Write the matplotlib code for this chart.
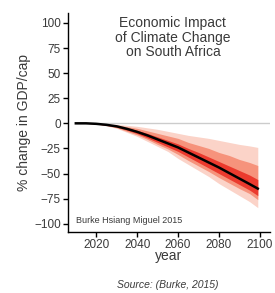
import matplotlib
matplotlib.use("Agg")
import matplotlib.pyplot as plt

# projected % change in GDP per capita, South Africa
years = [2010, 2015, 2020, 2025, 2030, 2035, 2040, 2045, 2050, 2055,
         2060, 2065, 2070, 2075, 2080, 2085, 2090, 2095, 2099]
median = [0, 0, -0.5, -1.5, -3, -5.5, -8.5, -12, -16, -20,
          -24, -29, -34, -39, -44, -49.5, -55, -60.5, -65]

# uncertainty bands, outer to inner
outer_hi = [0, 0, -0.2, -0.5, -1, -2, -3, -4.5, -6, -8,
            -10, -12, -13.5, -15, -17, -19, -21, -22.5, -24]
outer_lo = [0, 0, -0.8, -2.5, -5, -9, -13, -18, -23, -28,
            -35, -41, -47, -53, -60, -66, -72, -78, -84]
mid_hi = [0, 0, -0.3, -0.9, -1.8, -3.3, -5, -7.5, -10, -12.5,
          -15, -19, -22, -25, -29, -32, -36, -39, -42]
mid_lo = [0, 0, -0.7, -2.2, -4.4, -8, -11.5, -16, -21, -25.5,
          -31, -37, -42.5, -48, -54, -59.5, -65, -70, -76]
inner_hi = [0, 0, -0.4, -1.2, -2.4, -4.4, -7, -10, -13.5, -17,
            -20.5, -25, -29, -33.5, -38, -42.5, -47, -51.5, -56]
inner_lo = [0, 0, -0.6, -1.9, -3.8, -6.8, -10.2, -14.5, -19, -23.5,
            -28, -33.5, -39, -44.5, -50, -55.5, -61, -66.5, -72]

yticks = [100, 75, 50, 25, 0, -25, -50, -75, -100]
xticks = [2020, 2040, 2060, 2080, 2100]

plt.rcParams['font.family'] = ['Liberation Sans', 'DejaVu Sans']
txt = '#3a3a3a'

fig = plt.figure(figsize=(2.75, 2.93), dpi=100)
ax = fig.add_axes([0.246, 0.209, 0.736, 0.747])

ax.hlines(0, years[0], 2105, color='#cccccc', lw=1, zorder=1)

bands = [(outer_lo, outer_hi, '#fbd3c8'),
         (mid_lo, mid_hi, '#f6937c'),
         (inner_lo, inner_hi, '#eb3a2e')]
for lo, hi, c in bands:
    ax.fill_between(years, lo, hi, color=c, lw=0, zorder=2)
ax.plot(years, median, color='black', lw=1.8, zorder=3)

ax.set_xlim(2006, 2105)
ax.set_ylim(-108, 110)
ax.set_yticks(yticks)
ax.set_xticks(xticks)
ax.spines['top'].set_visible(False)
ax.spines['right'].set_visible(False)
for s in ['left', 'bottom']:
    ax.spines[s].set_linewidth(1)
ax.tick_params(direction='out', length=3.5, width=1, labelsize=8.5,
               labelcolor=txt, pad=1.5)

ax.set_ylabel('% change in GDP/cap', fontsize=10, color=txt, labelpad=2)
ax.set_xlabel('year', fontsize=10, color=txt, labelpad=-1)

ax.text(0.52, 0.985, 'Economic Impact\nof Climate Change\non South Africa',
        transform=ax.transAxes, ha='center', va='top', fontsize=10,
        color=txt, linespacing=1.05)
ax.text(0.04, 0.05, 'Burke Hsiang Miguel 2015', transform=ax.transAxes,
        ha='left', va='center', fontsize=6.5, color=txt)

fig.text(0.61, 0.028, 'Source: (Burke, 2015)', ha='center', va='center',
         fontsize=7.5, style='italic', color=txt)

fig.savefig('out.png', dpi=100)
